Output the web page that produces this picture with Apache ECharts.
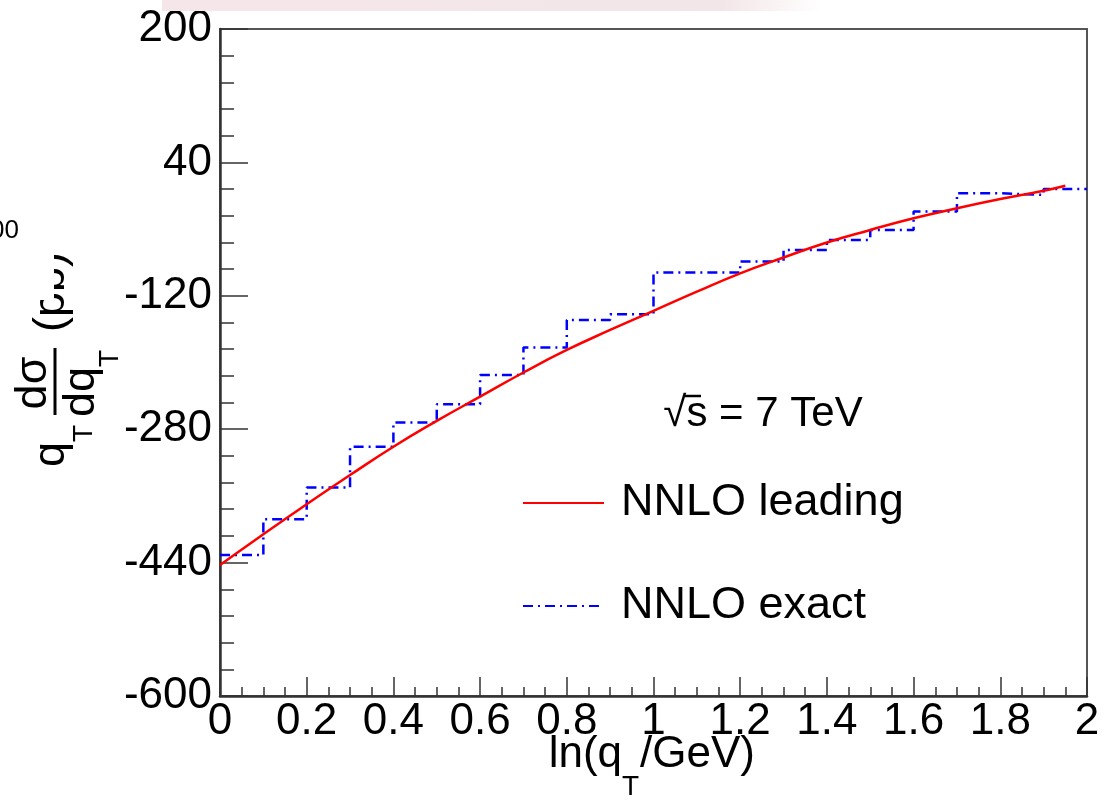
<!DOCTYPE html>
<html>
<head>
<meta charset="utf-8">
<script src="https://cdn.jsdelivr.net/npm/echarts@6/dist/echarts.min.js"></script>
<style>html,body{margin:0;padding:0;background:#fff;}#c{width:1105px;height:800px;}</style>
</head>
<body>
<div id="c"></div>
<script>
// ---- data ----
const leadingX = [0, 0.1, 0.2, 0.3, 0.4, 0.5, 0.6, 0.7, 0.8, 0.9, 1.0, 1.1, 1.2, 1.3, 1.4, 1.5, 1.6, 1.7, 1.8, 1.9, 1.95];
const leadingY = [-443, -406, -370, -335, -301, -270, -241, -212, -185, -161, -138, -115, -93, -74, -56, -41, -27, -15, -4, 6, 12];
const binEdges = [0, 0.1, 0.2, 0.3, 0.4, 0.5, 0.6, 0.7, 0.8, 0.9, 1.0, 1.1, 1.2, 1.3, 1.4, 1.5, 1.6, 1.7, 1.8, 1.9, 2.0];
const exactY = [-431, -388, -350, -301, -272, -250, -215, -182, -149, -142, -92, -92, -79, -65, -53, -41, -19, 3, 1, 8];
const xTickLabels = ['0', '0.2', '0.4', '0.6', '0.8', '1', '1.2', '1.4', '1.6', '1.8', '2'];
const yTickLabels = ['-600', '-440', '-280', '-120', '40', '200'];
const seriesNames = ['NNLO leading', 'NNLO exact'];
const energyText = '\u221As = 7 TeV';

const FONT = "'Liberation Sans', Arial, Helvetica, sans-serif";

const leadingData = leadingX.map((x, i) => [x, leadingY[i]]);
const exactData = exactY.map((v, i) => [binEdges[i], v]);
exactData.push([binEdges[binEdges.length - 1], exactY[exactY.length - 1]]);

const chart = echarts.init(document.getElementById('c'), null, { renderer: 'canvas' });

const option = {
  backgroundColor: '#ffffff',
  animation: false,
  grid: {
    left: 220, right: 18, top: 29, bottom: 104,
    show: true, borderColor: '#555', borderWidth: 2, backgroundColor: 'transparent'
  },
  xAxis: {
    type: 'value', min: 0, max: 2, interval: 0.2,
    axisLine: { show: true, onZero: false, lineStyle: { color: '#333', width: 2.5 } },
    axisTick: { show: true, inside: true, length: 19, lineStyle: { color: '#333', width: 1.5 } },
    minorTick: { show: true, splitNumber: 4, length: 9, lineStyle: { color: '#333', width: 1.5 } },
    splitLine: { show: false },
    axisLabel: {
      show: true, margin: 4, color: '#000', fontSize: 44, fontFamily: FONT,
      showMinLabel: true, showMaxLabel: true,
      formatter: function (v) { return xTickLabels[Math.round(v / 0.2)]; }
    }
  },
  yAxis: {
    type: 'value', min: -600, max: 200, interval: 160,
    axisLine: { show: true, onZero: false, lineStyle: { color: '#333', width: 2.5 } },
    axisTick: { show: true, inside: true, length: 28, lineStyle: { color: '#333', width: 1.5 } },
    minorTick: { show: true, splitNumber: 5, length: 14, lineStyle: { color: '#333', width: 1.5 } },
    splitLine: { show: false },
    axisLabel: {
      show: true, margin: 8, color: '#000', fontSize: 44, fontFamily: FONT,
      showMinLabel: true, showMaxLabel: true,
      formatter: function (v) { return yTickLabels[Math.round((v + 600) / 160)]; }
    }
  },
  legend: {
    data: seriesNames,
    orient: 'vertical', left: 517, top: 473,
    itemWidth: 81, itemHeight: 20, itemGap: 53,
    itemStyle: { opacity: 0 },
    textStyle: { color: '#000', fontSize: 45, fontFamily: FONT, lineHeight: 50, padding: [0, 0, 0, 12] },
    selectedMode: false
  },
  series: [
    {
      name: seriesNames[0], type: 'line', data: leadingData, smooth: true,
      symbol: 'none', showSymbol: false,
      lineStyle: { color: '#ff0000', width: 2.5 }, itemStyle: { color: '#ff0000' }, z: 3
    },
    {
      name: seriesNames[1], type: 'line', data: exactData, step: 'end',
      symbol: 'none', showSymbol: false,
      lineStyle: { color: '#0000ff', width: 2.5, type: [10, 5, 2, 5] }, itemStyle: { color: '#0000ff' }, z: 2
    }
  ],
  graphic: [
    {
      type: 'rect', z: 1, shape: { x: 162, y: 0, width: 660, height: 11 },
      style: {
        fill: new echarts.graphic.LinearGradient(0, 0, 1, 0, [
          { offset: 0, color: '#f5e7e9' }, { offset: 0.85, color: '#f3e6e8' }, { offset: 1, color: '#ffffff' }
        ])
      }
    },
    { type: 'text', z: 5, x: -10, y: 231, style: { text: '00', fontSize: 26, fontFamily: FONT, fill: '#000', verticalAlign: 'middle' } },
    {
      type: 'group', x: 55, y: 467, rotation: Math.PI / 2, z: 5,
      children: [
        { type: 'text', x: 0, y: -3, style: { text: 'q', fontSize: 45, fontFamily: FONT, fill: '#000', verticalAlign: 'middle', textAlign: 'left' } },
        { type: 'text', x: 25, y: 29, style: { text: 'T', fontSize: 28, fontFamily: FONT, fill: '#000', verticalAlign: 'middle', textAlign: 'left' } },
        { type: 'line', shape: { x1: 52, y1: 0, x2: 119, y2: 0 }, style: { stroke: '#000', lineWidth: 3 } },
        { type: 'text', x: 84, y: -21, style: { text: 'd\u03C3', fontSize: 45, fontFamily: FONT, fill: '#000', verticalAlign: 'middle', textAlign: 'center' } },
        { type: 'text', x: 50, y: 27, style: { text: 'dq', fontSize: 45, fontFamily: FONT, fill: '#000', verticalAlign: 'middle', textAlign: 'left' } },
        { type: 'text', x: 100, y: 55, style: { text: 'T', fontSize: 28, fontFamily: FONT, fill: '#000', verticalAlign: 'middle', textAlign: 'left' } },
        { type: 'text', x: 135, y: -3, style: { text: '(pb)', fontSize: 45, fontFamily: FONT, fill: '#000', verticalAlign: 'middle', textAlign: 'left' } }
      ]
    },
    { type: 'rect', z: 20, shape: { x: 0, y: 248, width: 54, height: 52 }, style: { fill: '#ffffff' } },
    { type: 'text', z: 5, x: 622, y: 755, style: { text: 'ln(q', fontSize: 44, fontFamily: FONT, fill: '#000', verticalAlign: 'middle', textAlign: 'right' } },
    { type: 'text', z: 5, x: 622, y: 787, style: { text: 'T', fontSize: 28, fontFamily: FONT, fill: '#000', verticalAlign: 'middle', textAlign: 'left' } },
    { type: 'text', z: 5, x: 640, y: 755, style: { text: '/GeV)', fontSize: 44, fontFamily: FONT, fill: '#000', verticalAlign: 'middle', textAlign: 'left' } },
    { type: 'text', z: 5, x: 763, y: 414, style: { text: energyText, fontSize: 42, fontFamily: FONT, fill: '#000', verticalAlign: 'middle', textAlign: 'center' } },
    { type: 'line', z: 5, shape: { x1: 683, y1: 396, x2: 701, y2: 396 }, style: { stroke: '#000', lineWidth: 2.5 } }
  ]
};
chart.setOption(option);
</script>
</body>
</html>
